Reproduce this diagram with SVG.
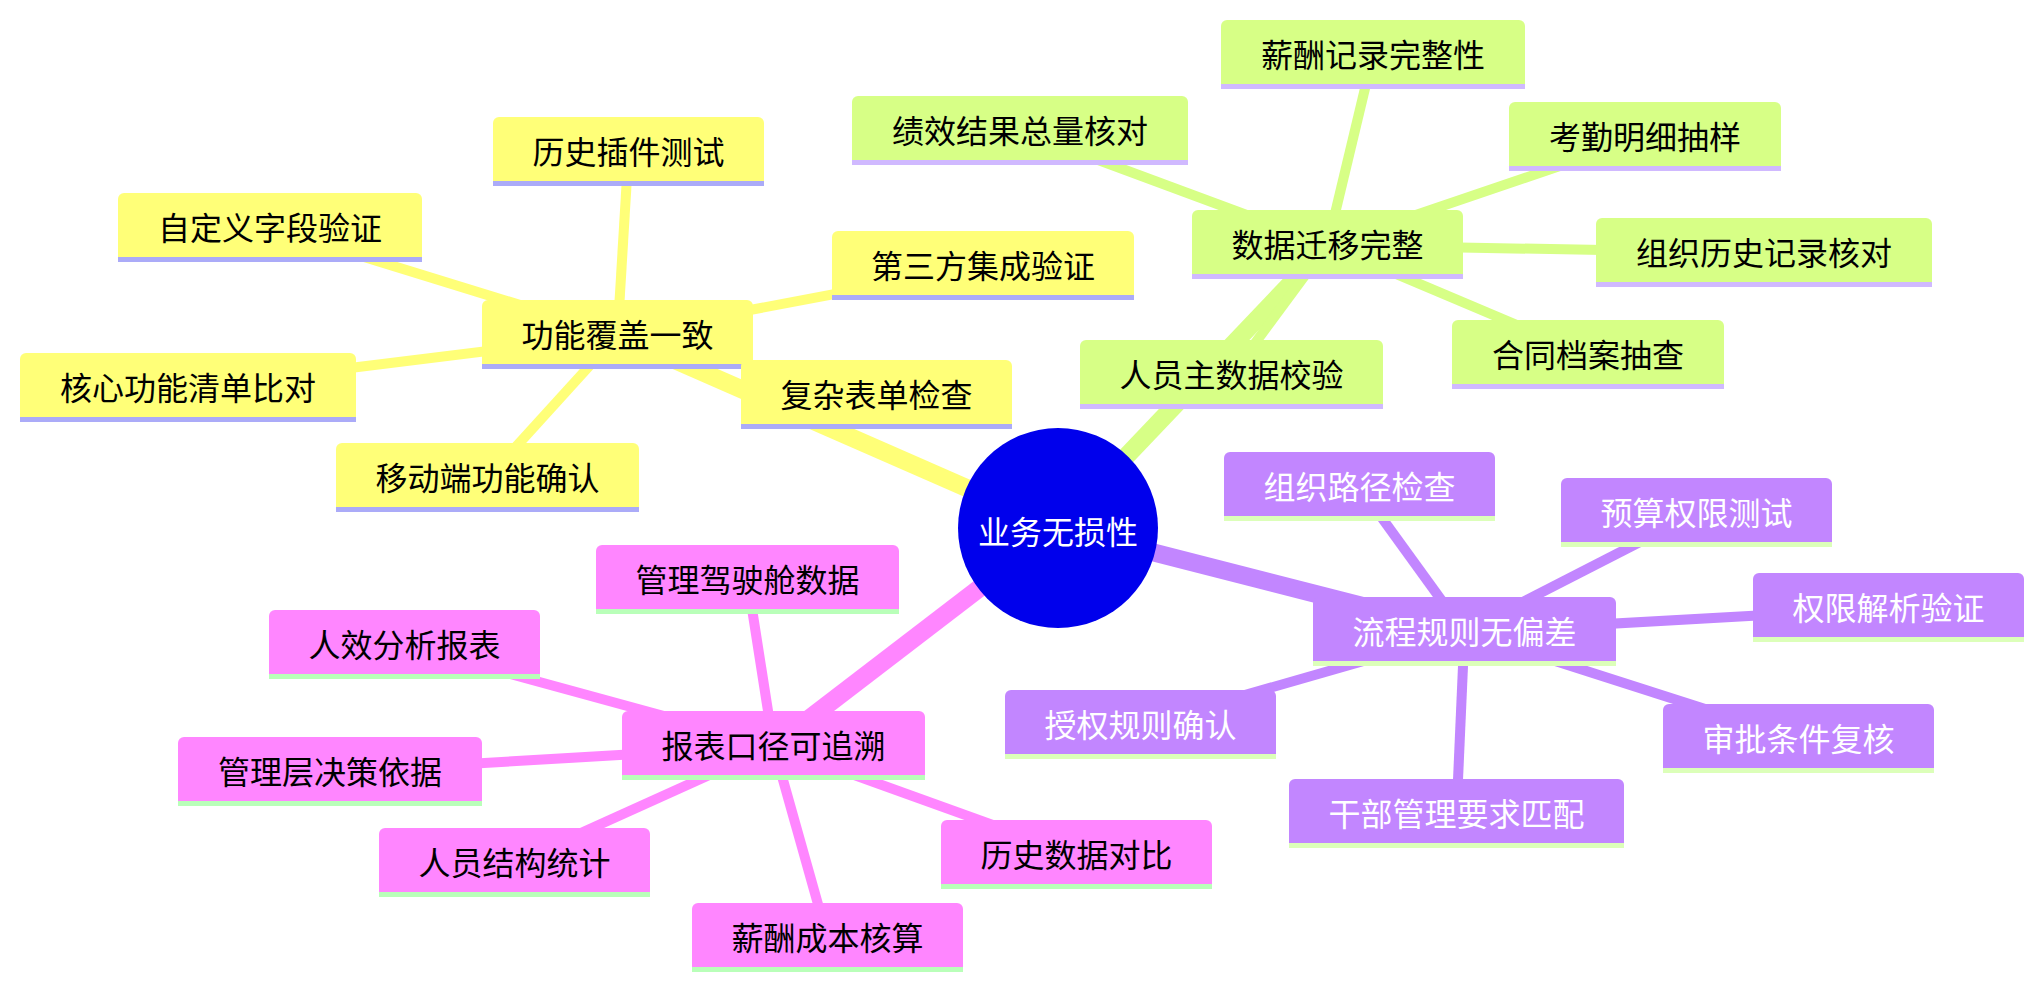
<svg xmlns="http://www.w3.org/2000/svg" width="2043" height="990" viewBox="0 0 2043 990">
<style>
text{font-family:"Noto Sans CJK SC","Noto Sans",sans-serif;font-size:32px;text-anchor:middle;dominant-baseline:central}
.e0{fill:none;stroke-width:18;stroke-linecap:butt}
.e1{fill:none;stroke-width:10;stroke-linecap:butt}
.s0 .f{fill:#ffff78}
.s1 .f{fill:#d7ff86}
.s2 .f{fill:#ff86ff}
.s3 .f{fill:#c286ff}
.s0 .b{fill:#ababf8}
.s1 .b{fill:#d0b9ff}
.s2 .b{fill:#b9ffb9}
.s3 .b{fill:#dcffb9}
.s0 text,.s1 text,.s2 text{fill:#000}
.s3 text{fill:#fff}
.c0{stroke:#ffff78}.c1{stroke:#d7ff86}.c2{stroke:#ff86ff}.c3{stroke:#c286ff}
</style>
<rect width="2043" height="990" fill="#fff"/>
<g id="connectors">
<line class="e0 c0" x1="1058" y1="528" x2="617.5" y2="335"/>
<line class="e0 c1" x1="1058" y1="528" x2="1327.5" y2="245"/>
<line class="e0 c2" x1="1058" y1="528" x2="773.5" y2="746"/>
<line class="e0 c3" x1="1058" y1="528" x2="1464.5" y2="632"/>
<line class="e1 c0" x1="617.5" y1="335" x2="628.5" y2="152"/>
<line class="e1 c0" x1="617.5" y1="335" x2="270" y2="228"/>
<line class="e1 c0" x1="617.5" y1="335" x2="188" y2="388"/>
<line class="e1 c0" x1="617.5" y1="335" x2="487.5" y2="478"/>
<line class="e1 c0" x1="617.5" y1="335" x2="876.5" y2="395"/>
<line class="e1 c0" x1="617.5" y1="335" x2="983" y2="266"/>
<line class="e1 c1" x1="1327.5" y1="245" x2="1373" y2="55"/>
<line class="e1 c1" x1="1327.5" y1="245" x2="1020" y2="131"/>
<line class="e1 c1" x1="1327.5" y1="245" x2="1645" y2="137"/>
<line class="e1 c1" x1="1327.5" y1="245" x2="1764" y2="253"/>
<line class="e1 c1" x1="1327.5" y1="245" x2="1588" y2="355"/>
<line class="e1 c1" x1="1327.5" y1="245" x2="1231.5" y2="375"/>
<line class="e1 c2" x1="773.5" y1="746" x2="747.5" y2="580"/>
<line class="e1 c2" x1="773.5" y1="746" x2="404.5" y2="645"/>
<line class="e1 c2" x1="773.5" y1="746" x2="330" y2="772"/>
<line class="e1 c2" x1="773.5" y1="746" x2="514.5" y2="863"/>
<line class="e1 c2" x1="773.5" y1="746" x2="827.5" y2="938"/>
<line class="e1 c2" x1="773.5" y1="746" x2="1076.5" y2="855"/>
<line class="e1 c3" x1="1464.5" y1="632" x2="1359.5" y2="487"/>
<line class="e1 c3" x1="1464.5" y1="632" x2="1696.5" y2="513"/>
<line class="e1 c3" x1="1464.5" y1="632" x2="1888.5" y2="608"/>
<line class="e1 c3" x1="1464.5" y1="632" x2="1798.5" y2="739"/>
<line class="e1 c3" x1="1464.5" y1="632" x2="1456.5" y2="814"/>
<line class="e1 c3" x1="1464.5" y1="632" x2="1140.5" y2="725"/>
</g>
<g id="root">
<circle cx="1058" cy="528" r="100" fill="#0000ec"/>
<text x="1058" y="530" fill="#fff">业务无损性</text>
</g>
<g id="n-yellow-main" class="s0"><path class="f" d="M482,364V306a6,6 0 0 1 6,-6H747a6,6 0 0 1 6,6V364Z"/><rect class="b" x="482" y="364" width="271" height="5"/><text x="617.5" y="333">功能覆盖一致</text></g>
<g id="n-y1" class="s0"><path class="f" d="M493,181V123a6,6 0 0 1 6,-6H758a6,6 0 0 1 6,6V181Z"/><rect class="b" x="493" y="181" width="271" height="5"/><text x="628.5" y="150">历史插件测试</text></g>
<g id="n-y2" class="s0"><path class="f" d="M118,257V199a6,6 0 0 1 6,-6H416a6,6 0 0 1 6,6V257Z"/><rect class="b" x="118" y="257" width="304" height="5"/><text x="270" y="226">自定义字段验证</text></g>
<g id="n-y3" class="s0"><path class="f" d="M20,417V359a6,6 0 0 1 6,-6H350a6,6 0 0 1 6,6V417Z"/><rect class="b" x="20" y="417" width="336" height="5"/><text x="188" y="386">核心功能清单比对</text></g>
<g id="n-y4" class="s0"><path class="f" d="M336,507V449a6,6 0 0 1 6,-6H633a6,6 0 0 1 6,6V507Z"/><rect class="b" x="336" y="507" width="303" height="5"/><text x="487.5" y="476">移动端功能确认</text></g>
<g id="n-y5" class="s0"><path class="f" d="M741,424V366a6,6 0 0 1 6,-6H1006a6,6 0 0 1 6,6V424Z"/><rect class="b" x="741" y="424" width="271" height="5"/><text x="876.5" y="393">复杂表单检查</text></g>
<g id="n-y6" class="s0"><path class="f" d="M832,295V237a6,6 0 0 1 6,-6H1128a6,6 0 0 1 6,6V295Z"/><rect class="b" x="832" y="295" width="302" height="5"/><text x="983" y="264">第三方集成验证</text></g>
<g id="n-green-main" class="s1"><path class="f" d="M1192,274V216a6,6 0 0 1 6,-6H1457a6,6 0 0 1 6,6V274Z"/><rect class="b" x="1192" y="274" width="271" height="5"/><text x="1327.5" y="243">数据迁移完整</text></g>
<g id="n-g1" class="s1"><path class="f" d="M1221,84V26a6,6 0 0 1 6,-6H1519a6,6 0 0 1 6,6V84Z"/><rect class="b" x="1221" y="84" width="304" height="5"/><text x="1373" y="53">薪酬记录完整性</text></g>
<g id="n-g2" class="s1"><path class="f" d="M852,160V102a6,6 0 0 1 6,-6H1182a6,6 0 0 1 6,6V160Z"/><rect class="b" x="852" y="160" width="336" height="5"/><text x="1020" y="129">绩效结果总量核对</text></g>
<g id="n-g3" class="s1"><path class="f" d="M1509,166V108a6,6 0 0 1 6,-6H1775a6,6 0 0 1 6,6V166Z"/><rect class="b" x="1509" y="166" width="272" height="5"/><text x="1645" y="135">考勤明细抽样</text></g>
<g id="n-g4" class="s1"><path class="f" d="M1596,282V224a6,6 0 0 1 6,-6H1926a6,6 0 0 1 6,6V282Z"/><rect class="b" x="1596" y="282" width="336" height="5"/><text x="1764" y="251">组织历史记录核对</text></g>
<g id="n-g5" class="s1"><path class="f" d="M1452,384V326a6,6 0 0 1 6,-6H1718a6,6 0 0 1 6,6V384Z"/><rect class="b" x="1452" y="384" width="272" height="5"/><text x="1588" y="353">合同档案抽查</text></g>
<g id="n-g6" class="s1"><path class="f" d="M1080,404V346a6,6 0 0 1 6,-6H1377a6,6 0 0 1 6,6V404Z"/><rect class="b" x="1080" y="404" width="303" height="5"/><text x="1231.5" y="373">人员主数据校验</text></g>
<g id="n-pink-main" class="s2"><path class="f" d="M622,775V717a6,6 0 0 1 6,-6H919a6,6 0 0 1 6,6V775Z"/><rect class="b" x="622" y="775" width="303" height="5"/><text x="773.5" y="744">报表口径可追溯</text></g>
<g id="n-p1" class="s2"><path class="f" d="M596,609V551a6,6 0 0 1 6,-6H893a6,6 0 0 1 6,6V609Z"/><rect class="b" x="596" y="609" width="303" height="5"/><text x="747.5" y="578">管理驾驶舱数据</text></g>
<g id="n-p2" class="s2"><path class="f" d="M269,674V616a6,6 0 0 1 6,-6H534a6,6 0 0 1 6,6V674Z"/><rect class="b" x="269" y="674" width="271" height="5"/><text x="404.5" y="643">人效分析报表</text></g>
<g id="n-p3" class="s2"><path class="f" d="M178,801V743a6,6 0 0 1 6,-6H476a6,6 0 0 1 6,6V801Z"/><rect class="b" x="178" y="801" width="304" height="5"/><text x="330" y="770">管理层决策依据</text></g>
<g id="n-p4" class="s2"><path class="f" d="M379,892V834a6,6 0 0 1 6,-6H644a6,6 0 0 1 6,6V892Z"/><rect class="b" x="379" y="892" width="271" height="5"/><text x="514.5" y="861">人员结构统计</text></g>
<g id="n-p5" class="s2"><path class="f" d="M692,967V909a6,6 0 0 1 6,-6H957a6,6 0 0 1 6,6V967Z"/><rect class="b" x="692" y="967" width="271" height="5"/><text x="827.5" y="936">薪酬成本核算</text></g>
<g id="n-p6" class="s2"><path class="f" d="M941,884V826a6,6 0 0 1 6,-6H1206a6,6 0 0 1 6,6V884Z"/><rect class="b" x="941" y="884" width="271" height="5"/><text x="1076.5" y="853">历史数据对比</text></g>
<g id="n-purple-main" class="s3"><path class="f" d="M1313,661V603a6,6 0 0 1 6,-6H1610a6,6 0 0 1 6,6V661Z"/><rect class="b" x="1313" y="661" width="303" height="5"/><text x="1464.5" y="630">流程规则无偏差</text></g>
<g id="n-u1" class="s3"><path class="f" d="M1224,516V458a6,6 0 0 1 6,-6H1489a6,6 0 0 1 6,6V516Z"/><rect class="b" x="1224" y="516" width="271" height="5"/><text x="1359.5" y="485">组织路径检查</text></g>
<g id="n-u2" class="s3"><path class="f" d="M1561,542V484a6,6 0 0 1 6,-6H1826a6,6 0 0 1 6,6V542Z"/><rect class="b" x="1561" y="542" width="271" height="5"/><text x="1696.5" y="511">预算权限测试</text></g>
<g id="n-u3" class="s3"><path class="f" d="M1753,637V579a6,6 0 0 1 6,-6H2018a6,6 0 0 1 6,6V637Z"/><rect class="b" x="1753" y="637" width="271" height="5"/><text x="1888.5" y="606">权限解析验证</text></g>
<g id="n-u4" class="s3"><path class="f" d="M1663,768V710a6,6 0 0 1 6,-6H1928a6,6 0 0 1 6,6V768Z"/><rect class="b" x="1663" y="768" width="271" height="5"/><text x="1798.5" y="737">审批条件复核</text></g>
<g id="n-u5" class="s3"><path class="f" d="M1289,843V785a6,6 0 0 1 6,-6H1618a6,6 0 0 1 6,6V843Z"/><rect class="b" x="1289" y="843" width="335" height="5"/><text x="1456.5" y="812">干部管理要求匹配</text></g>
<g id="n-u6" class="s3"><path class="f" d="M1005,754V696a6,6 0 0 1 6,-6H1270a6,6 0 0 1 6,6V754Z"/><rect class="b" x="1005" y="754" width="271" height="5"/><text x="1140.5" y="723">授权规则确认</text></g>
</svg>
